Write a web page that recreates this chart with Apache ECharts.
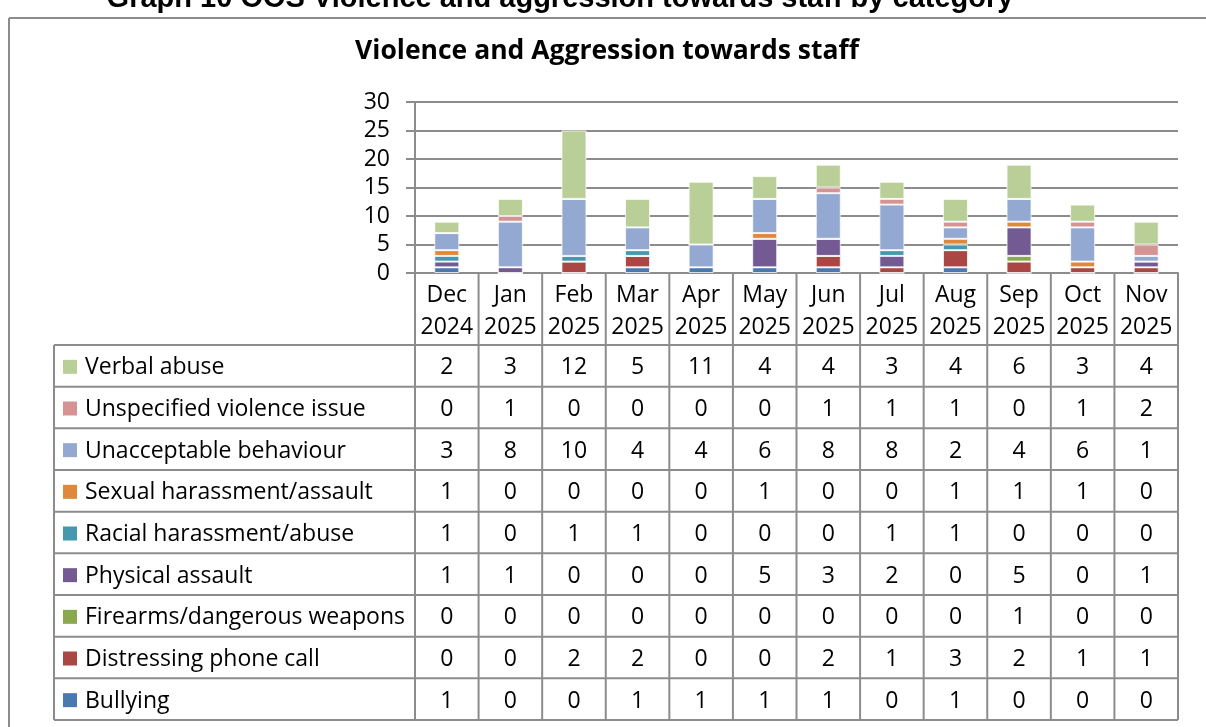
<!DOCTYPE html>
<html>
<head>
<meta charset="utf-8">
<script src="https://cdn.jsdelivr.net/npm/echarts@6/dist/echarts.min.js"></script>
<style>
  html, body { margin: 0; padding: 0; background: #fff; }
  #chart { width: 1206px; height: 727px; }
</style>
</head>
<body>
<div id="chart"></div>
<script>
// Months (two-line category labels)
const months = ['Dec\n2024', 'Jan\n2025', 'Feb\n2025', 'Mar\n2025', 'Apr\n2025', 'May\n2025',
                'Jun\n2025', 'Jul\n2025', 'Aug\n2025', 'Sep\n2025', 'Oct\n2025', 'Nov\n2025'];

// Incident counts per category, stacked bottom to top
const bullying      = [1, 0, 0, 1, 1, 1, 1, 0, 1, 0, 0, 0];
const distressing   = [0, 0, 2, 2, 0, 0, 2, 1, 3, 2, 1, 1];
const firearms      = [0, 0, 0, 0, 0, 0, 0, 0, 0, 1, 0, 0];
const physical      = [1, 1, 0, 0, 0, 5, 3, 2, 0, 5, 0, 1];
const racial        = [1, 0, 1, 1, 0, 0, 0, 1, 1, 0, 0, 0];
const sexual        = [1, 0, 0, 0, 0, 1, 0, 0, 1, 1, 1, 0];
const unacceptable  = [3, 8, 10, 4, 4, 6, 8, 8, 2, 4, 6, 1];
const unspecified   = [0, 1, 0, 0, 0, 0, 1, 1, 1, 0, 1, 2];
const verbal        = [2, 3, 12, 5, 11, 4, 4, 3, 4, 6, 3, 4];

const yTicks = [0, 5, 10, 15, 20, 25, 30];

const seriesDefs = [
  { name: 'Bullying', data: bullying, color: '#4a78b0' },
  { name: 'Distressing phone call', data: distressing, color: '#aa4643' },
  { name: 'Firearms/dangerous weapons', data: firearms, color: '#8aa84e' },
  { name: 'Physical assault', data: physical, color: '#735a93' },
  { name: 'Racial harassment/abuse', data: racial, color: '#4598ae' },
  { name: 'Sexual harassment/assault', data: sexual, color: '#df883c' },
  { name: 'Unacceptable behaviour', data: unacceptable, color: '#94a9d1' },
  { name: 'Unspecified violence issue', data: unspecified, color: '#d59393' },
  { name: 'Verbal abuse', data: verbal, color: '#b9cf97' }
];

const FONT = '"Open Sans", Lato, sans-serif';
const FS = 23;
const LINE = '#8c8c8c';

const chart = echarts.init(document.getElementById('chart'), null, { renderer: 'canvas' });

chart.setOption({
  animation: false,
  backgroundColor: '#ffffff',
  textStyle: { fontFamily: FONT },
  grid: { left: 415, right: 28, top: 102, bottom: 454, containLabel: false },
  xAxis: {
    type: 'category',
    data: months,
    axisLine: { show: true, lineStyle: { color: LINE, width: 2 } },
    axisTick: { show: false },
    axisLabel: { color: '#000', fontSize: FS, lineHeight: 32, margin: 6, fontFamily: FONT, interval: 0 }
  },
  yAxis: {
    type: 'value',
    min: yTicks[0],
    max: yTicks[yTicks.length - 1],
    interval: yTicks[1] - yTicks[0],
    axisLine: { show: true, lineStyle: { color: LINE, width: 2 } },
    axisTick: { show: true, inside: false, length: 9, lineStyle: { color: LINE, width: 2 } },
    splitLine: { show: true, lineStyle: { color: LINE, width: 2 } },
    axisLabel: { color: '#000', fontSize: FS, margin: 25, fontFamily: FONT }
  },
  series: seriesDefs.map(s => ({
    name: s.name,
    type: 'bar',
    stack: 'total',
    data: s.data,
    barWidth: 25,
    itemStyle: { color: s.color, borderColor: 'rgba(255,255,255,0.75)', borderWidth: 1 },
    emphasis: { disabled: true }
  }))
});

// Data table below the plot, aligned to the category axis
function buildTable() {
  const n = months.length;
  const c0 = chart.convertToPixel({ xAxisIndex: 0 }, 0);
  const c1 = chart.convertToPixel({ xAxisIndex: 0 }, 1);
  const colW = c1 - c0;
  const leftEdge = c0 - colW / 2;
  const rightEdge = leftEdge + colW * n;
  const axisY = chart.convertToPixel({ yAxisIndex: 0 }, 0);
  const headBottom = 345;
  const tableBottom = 720;
  const tableLeft = 54;
  const rows = seriesDefs.slice().reverse();
  const rowH = (tableBottom - headBottom) / rows.length;

  const g = [];
  const line = (x1, y1, x2, y2) => g.push({
    type: 'line', silent: true,
    shape: { x1, y1, x2, y2 },
    style: { stroke: LINE, lineWidth: 2 }
  });

  // column separators through header and body
  for (let i = 0; i <= n; i++) {
    const x = leftEdge + i * colW;
    line(x, axisY, x, tableBottom);
  }
  line(tableLeft, headBottom, tableLeft, tableBottom);
  // row separators
  for (let r = 0; r <= rows.length; r++) {
    const y = headBottom + r * rowH;
    line(tableLeft, y, rightEdge, y);
  }

  rows.forEach((s, r) => {
    const cy = headBottom + r * rowH + rowH / 2;
    g.push({
      type: 'rect', silent: true,
      shape: { x: 63, y: cy - 6, width: 14, height: 14 },
      style: { fill: s.color }
    });
    g.push({
      type: 'text', silent: true,
      x: 85, y: cy + 2,
      style: { text: s.name, fill: '#000', font: FS + 'px ' + FONT, align: 'left', verticalAlign: 'middle' }
    });
    s.data.forEach((v, i) => {
      g.push({
        type: 'text', silent: true,
        x: chart.convertToPixel({ xAxisIndex: 0 }, i), y: cy + 2,
        style: { text: String(v), fill: '#000', font: FS + 'px ' + FONT, align: 'center', verticalAlign: 'middle' }
      });
    });
  });

  // chart frame
  line(9, 18, 1206, 18);
  line(9, 18, 9, 727);

  // headings
  g.push({
    type: 'text', silent: true, x: 560, y: 13, z: 10,
    style: { text: 'Graph 10 OOS Violence and aggression towards staff by category', fill: '#000',
             font: 'bold 29px "Liberation Sans", Arial, sans-serif', align: 'center', verticalAlign: 'bottom' }
  });
  g.push({
    type: 'text', silent: true, x: 607, y: 51,
    style: { text: 'Violence and Aggression towards staff', fill: '#000',
             font: 'bold 26.5px ' + FONT, align: 'center', verticalAlign: 'middle' }
  });

  chart.setOption({ graphic: g });
}

buildTable();
</script>
</body>
</html>
